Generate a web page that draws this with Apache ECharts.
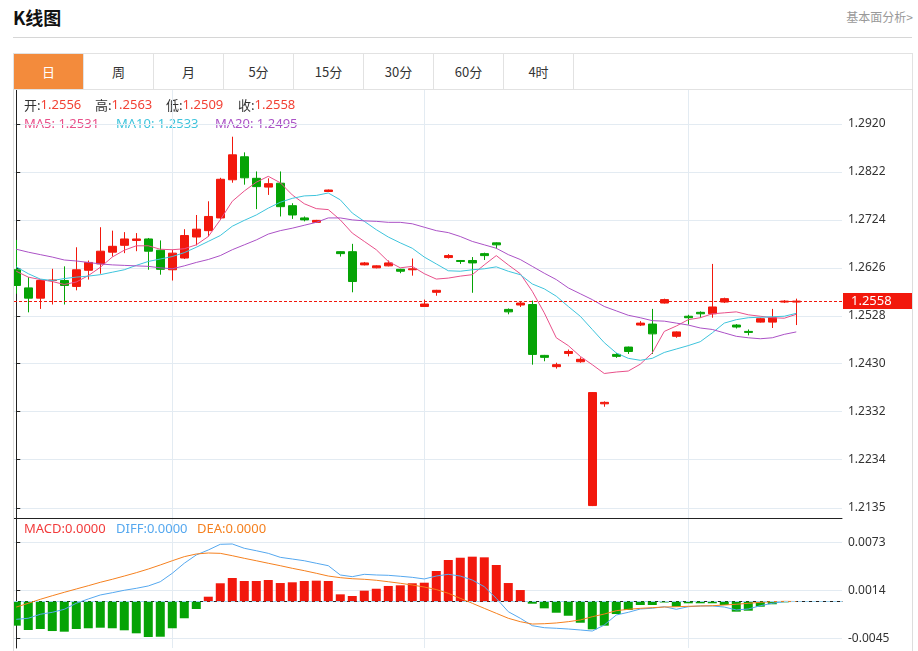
<!DOCTYPE html>
<html>
<head>
  <meta charset="utf-8">
  <title>K线图</title>
  <script src="https://cdn.jsdelivr.net/npm/echarts@6/dist/echarts.min.js"></script>
  <style>
    body { margin: 0; width: 918px; height: 651px; background: #fff; position: relative; overflow: hidden;
           font-family: "Noto Sans CJK SC", "Noto Sans", sans-serif; }
    .title { position: absolute; left: 13px; top: 4px; font-size: 18px; font-weight: bold; color: #111; }
    .more { position: absolute; right: 5px; top: 8px; font-size: 12px; color: #999; }
    .rule { position: absolute; left: 13px; top: 37px; width: 899px; height: 1px; background: #d6d6d6; }
    .tabs { position: absolute; left: 13px; top: 53px; width: 898px; height: 35px; border: 1px solid #e2e2e2; display: flex; }
    .tabs div { width: 69px; height: 35px; line-height: 35px; text-align: center; font-size: 13px; color: #333;
                border-right: 1px solid #e2e2e2; }
    .tabs div.on { background: #f38b3c; color: #fff; }
    .box { position: absolute; left: 13px; top: 89px; width: 898px; height: 562px; border-left: 1px solid #ddd; border-right: 1px solid #ddd; }
    #kChart { position: absolute; left: 14px; top: 90px; width: 898px; height: 561px; }
  </style>
</head>
<body>
  <div class="title">K线图</div>
  <div class="more">基本面分析&gt;</div>
  <div class="rule"></div>
  <div class="tabs" id="tabs"></div>
  <div class="box"></div>
  <div id="kChart"></div>

  <script>
    const tabNames = ['日', '周', '月', '5分', '15分', '30分', '60分', '4时'];

    // 日K数据 (开/收/低/高)
    const opens = [1.2622, 1.2585, 1.2564, 1.2600, 1.2600, 1.2588, 1.2621, 1.2634, 1.2658, 1.2672,
      1.2682, 1.2685, 1.2662, 1.2622, 1.2646, 1.2689, 1.2702, 1.2728, 1.2806, 1.2853,
      1.2809, 1.2791, 1.2799, 1.2753, 1.2728, 1.2719, 1.2782, 1.2659, 1.2659, 1.2632,
      1.2626, 1.2630, 1.2623, 1.2622, 1.2547, 1.2576, 1.2647, 1.2641, 1.2641, 1.2655,
      1.2677, 1.2541, 1.2550, 1.2551, 1.2447, 1.2424, 1.2451, 1.2434, 1.2140, 1.2348,
      1.2449, 1.2464, 1.2509, 1.2511, 1.2554, 1.2486, 1.2527, 1.2535, 1.2532, 1.2556,
      1.2509, 1.2496, 1.2515, 1.2515, 1.2556, 1.2556];
    const closes = [1.2590, 1.2564, 1.2600, 1.2601, 1.2590, 1.2622, 1.2637, 1.2660, 1.2670, 1.2685,
      1.2685, 1.2660, 1.2623, 1.2656, 1.2692, 1.2705, 1.2731, 1.2807, 1.2857, 1.2810,
      1.2792, 1.2798, 1.2751, 1.2734, 1.2724, 1.2723, 1.2785, 1.2655, 1.2598, 1.2636,
      1.2630, 1.2636, 1.2619, 1.2624, 1.2552, 1.2580, 1.2651, 1.2639, 1.2636, 1.2651,
      1.2673, 1.2536, 1.2554, 1.2449, 1.2443, 1.2428, 1.2455, 1.2439, 1.2371, 1.2351,
      1.2445, 1.2455, 1.2513, 1.2491, 1.2561, 1.2495, 1.2524, 1.2532, 1.2546, 1.2563,
      1.2505, 1.2494, 1.2522, 1.2524, 1.2558, 1.2558];
    const lows = [1.2573, 1.2535, 1.2542, 1.2551, 1.2551, 1.2580, 1.2602, 1.2614, 1.2649, 1.2656,
      1.2660, 1.2622, 1.2612, 1.2600, 1.2644, 1.2672, 1.2690, 1.2724, 1.2800, 1.2796,
      1.2746, 1.2775, 1.2731, 1.2726, 1.2721, 1.2718, 1.2781, 1.2649, 1.2576, 1.2631,
      1.2625, 1.2629, 1.2615, 1.2610, 1.2546, 1.2569, 1.2645, 1.2634, 1.2575, 1.2642,
      1.2665, 1.2531, 1.2546, 1.2428, 1.2435, 1.2420, 1.2445, 1.2432, 1.2139, 1.2342,
      1.2442, 1.2450, 1.2507, 1.2450, 1.2553, 1.2483, 1.2510, 1.2524, 1.2524, 1.2554,
      1.2502, 1.2488, 1.2514, 1.2503, 1.2554, 1.2509];
    const highs = [1.2683, 1.2607, 1.2602, 1.2624, 1.2629, 1.2668, 1.2641, 1.2709, 1.2702, 1.2699,
      1.2697, 1.2687, 1.2682, 1.2663, 1.2705, 1.2734, 1.2762, 1.2810, 1.2894, 1.2862,
      1.2823, 1.2809, 1.2823, 1.2758, 1.2731, 1.2724, 1.2786, 1.2660, 1.2675, 1.2638,
      1.2631, 1.2641, 1.2624, 1.2645, 1.2561, 1.2581, 1.2654, 1.2642, 1.2648, 1.2657,
      1.2678, 1.2543, 1.2557, 1.2559, 1.2448, 1.2432, 1.2459, 1.2443, 1.2372, 1.2353,
      1.2452, 1.2465, 1.2517, 1.2542, 1.2563, 1.2496, 1.2530, 1.2537, 1.2634, 1.2565,
      1.2511, 1.2500, 1.2524, 1.2542, 1.2560, 1.2563];

    const ma5 = [1.2619, 1.2607, 1.2602, 1.2598, 1.2592, 1.2597, 1.2610, 1.2627, 1.2648, 1.2662,
      1.2671, 1.2671, 1.2664, 1.2663, 1.2665, 1.2673, 1.2690, 1.2724, 1.2762, 1.2783,
      1.2801, 1.2813, 1.2800, 1.2775, 1.2757, 1.2747, 1.2745, 1.2724, 1.2697, 1.2680,
      1.2663, 1.2639, 1.2626, 1.2629, 1.2614, 1.2603, 1.2605, 1.2609, 1.2612, 1.2632,
      1.2651, 1.2632, 1.2614, 1.2578, 1.2534, 1.2483, 1.2467, 1.2445, 1.2428, 1.2410,
      1.2413, 1.2415, 1.2429, 1.2452, 1.2496, 1.2507, 1.2520, 1.2524, 1.2532, 1.2534,
      1.2536, 1.2530, 1.2527, 1.2524, 1.2523, 1.2531];
    const ma10 = [1.2628, 1.2614, 1.2603, 1.2600, 1.2604, 1.2607, 1.2609, 1.2612, 1.2617, 1.2622,
      1.2631, 1.2639, 1.2644, 1.2649, 1.2657, 1.2668, 1.2680, 1.2692, 1.2711, 1.2723,
      1.2734, 1.2748, 1.2760, 1.2768, 1.2773, 1.2774, 1.2779, 1.2765, 1.2738, 1.2721,
      1.2704, 1.2689, 1.2677, 1.2666, 1.2648, 1.2634, 1.2620, 1.2619, 1.2622, 1.2624,
      1.2628, 1.2619, 1.2612, 1.2593, 1.2583, 1.2568, 1.2547, 1.2527, 1.2500, 1.2473,
      1.2452, 1.2441, 1.2437, 1.2441, 1.2453, 1.2460, 1.2467, 1.2475, 1.2493, 1.2513,
      1.2520, 1.2524, 1.2525, 1.2526, 1.2527, 1.2533];
    const ma20 = [1.2664, 1.2658, 1.2653, 1.2648, 1.2642, 1.2640, 1.2637, 1.2634, 1.2632, 1.2631,
      1.2630, 1.2629, 1.2626, 1.2624, 1.2630, 1.2637, 1.2643, 1.2651, 1.2663, 1.2673,
      1.2683, 1.2695, 1.2702, 1.2707, 1.2713, 1.2719, 1.2728, 1.2728, 1.2724, 1.2722,
      1.2721, 1.2719, 1.2719, 1.2716, 1.2709, 1.2702, 1.2698, 1.2690, 1.2680, 1.2673,
      1.2666, 1.2653, 1.2643, 1.2629, 1.2615, 1.2602, 1.2585, 1.2573, 1.2561, 1.2547,
      1.2538, 1.2529, 1.2524, 1.2518, 1.2517, 1.2513, 1.2509, 1.2503, 1.2500, 1.2493,
      1.2486, 1.2483, 1.2481, 1.2483, 1.2490, 1.2495];

    // MACD
    const macdBar = [-0.00297, -0.00350, -0.00338, -0.00363, -0.00371, -0.00338, -0.00329, -0.00322, -0.00329, -0.00354,
      -0.00391, -0.00436, -0.00433, -0.00329, -0.00206, -0.00092, 0.00059, 0.00224, 0.00289, 0.00252,
      0.00252, 0.00264, 0.00227, 0.00236, 0.00252, 0.00256, 0.00252, 0.00088, 0.00068, 0.00133,
      0.00157, 0.00191, 0.00199, 0.00224, 0.00231, 0.00375, 0.00510, 0.00538, 0.00551, 0.00543,
      0.00449, 0.00227, 0.00141, -0.00027, -0.00084, -0.00138, -0.00175, -0.00261, -0.00342, -0.00297,
      -0.00154, -0.00104, -0.00043, -0.00043, -0.00012, -0.00064, -0.00022, -0.00022, -0.00022, -0.00043,
      -0.00125, -0.00113, -0.00064, -0.00034, -0.00010, 0];
    const diff = [-0.00219, -0.00206, -0.00157, -0.00133, -0.00096, -0.00022, 0.00031, 0.00080, 0.00108, 0.00138,
      0.00162, 0.00191, 0.00243, 0.00347, 0.00470, 0.00572, 0.00633, 0.00703, 0.00707, 0.00654,
      0.00624, 0.00592, 0.00543, 0.00522, 0.00501, 0.00470, 0.00440, 0.00326, 0.00305, 0.00334,
      0.00326, 0.00322, 0.00310, 0.00297, 0.00277, 0.00313, 0.00334, 0.00313, 0.00264, 0.00182,
      0.00039, -0.00125, -0.00206, -0.00297, -0.00322, -0.00329, -0.00338, -0.00350, -0.00363, -0.00289,
      -0.00166, -0.00133, -0.00092, -0.00083, -0.00064, -0.00096, -0.00064, -0.00055, -0.00055, -0.00068,
      -0.00104, -0.00092, -0.00052, -0.00022, -0.00002, 0];
    const dea = [-0.00068, -0.00022, 0.00027, 0.00071, 0.00113, 0.00154, 0.00194, 0.00236, 0.00273, 0.00313,
      0.00354, 0.00399, 0.00449, 0.00501, 0.00551, 0.00584, 0.00596, 0.00592, 0.00563, 0.00531,
      0.00501, 0.00470, 0.00440, 0.00408, 0.00379, 0.00347, 0.00313, 0.00293, 0.00280, 0.00273,
      0.00261, 0.00243, 0.00224, 0.00203, 0.00178, 0.00147, 0.00101, 0.00039, -0.00022, -0.00084,
      -0.00145, -0.00206, -0.00248, -0.00277, -0.00273, -0.00264, -0.00248, -0.00227, -0.00187, -0.00154,
      -0.00113, -0.00096, -0.00084, -0.00076, -0.00068, -0.00064, -0.00059, -0.00055, -0.00052, -0.00043,
      -0.00034, -0.00022, -0.00010, -0.00002, 0.00002, 0];

    const priceTicks = [1.2135, 1.2234, 1.2332, 1.2430, 1.2528, 1.2626, 1.2724, 1.2822, 1.2920];
    const macdTicks = [-0.0045, 0.0014, 0.0073];
    const monthSplits = [13, 34, 56];

    // tabs
    const tabsEl = document.getElementById('tabs');
    tabNames.forEach((n, i) => {
      const d = document.createElement('div');
      d.textContent = n;
      if (i === 0) d.className = 'on';
      tabsEl.appendChild(d);
    });

    const RED = '#f2180c', GREEN = '#05a305';
    const C_MA5 = '#e8508a', C_MA10 = '#3ec4dc', C_MA20 = '#ab52c6';
    const C_DIFF = '#55a8ef', C_DEA = '#f5801f', C_MACD = '#f23b3b';
    const GRIDLINE = '#e3ebf2';
    const last = closes.length - 1;
    const f4 = v => (Math.abs(v) < 0.00005 ? 0 : v).toFixed(4);

    const kData = opens.map((o, i) => [i, o, closes[i], lows[i], highs[i]]);
    const pair = arr => arr.map((v, i) => [i, v]);

    const chart = echarts.init(document.getElementById('kChart'));

    const xAxisBase = {
      type: 'value', min: -0.19, max: 68.81,
      axisLine: { show: true, lineStyle: { color: '#222' } },
      axisTick: { show: false, customValues: monthSplits },
      axisLabel: { show: false, customValues: monthSplits },
      splitLine: { show: true, lineStyle: { color: GRIDLINE } }
    };
    const yAxisBase = {
      type: 'value', position: 'right', scale: true,
      axisLine: { show: true, lineStyle: { color: '#222' } },
      axisTick: { show: true, length: 4, lineStyle: { color: '#222' } },
      axisLabel: { color: '#333', fontSize: 12, margin: 6, fontFamily: 'Noto Sans' },
      splitLine: { show: true, lineStyle: { color: GRIDLINE } }
    };

    const FONT = '13px "Noto Sans", "Noto Sans CJK SC"';
    const txt = (x, y, rich, text) => ({
      type: 'text', x: x, y: y, silent: true,
      style: { text: text, rich: rich, verticalAlign: 'middle', font: FONT }
    });
    const lab = {
      l: { fill: '#333', fontSize: 13, fontFamily: 'Noto Sans CJK SC' },
      v: { fill: '#f24134', fontSize: 13, fontFamily: 'Noto Sans' }
    };
    const one = c => ({ a: { fill: c, fontSize: 13, fontFamily: 'Noto Sans' } });

    chart.setOption({
      animation: false,
      grid: [
        { left: 0, top: 0, width: 828, height: 428 },
        { left: 0, top: 428, width: 828, height: 130 }
      ],
      xAxis: [
        Object.assign({ gridIndex: 0 }, xAxisBase),
        Object.assign({ gridIndex: 1 }, xAxisBase)
      ],
      yAxis: [
        Object.assign({}, yAxisBase, {
          gridIndex: 0, min: 1.21146, max: 1.29895,
          axisTick: Object.assign({}, yAxisBase.axisTick, { customValues: priceTicks }),
          axisLabel: Object.assign({}, yAxisBase.axisLabel, { customValues: priceTicks, formatter: v => v.toFixed(4) })
        }),
        Object.assign({}, yAxisBase, {
          gridIndex: 1, min: -0.005715, max: 0.010263,
          axisTick: Object.assign({}, yAxisBase.axisTick, { customValues: macdTicks }),
          axisLabel: Object.assign({}, yAxisBase.axisLabel, { customValues: macdTicks, formatter: v => v.toFixed(4) })
        })
      ],
      graphic: [
        txt(10, 15, lab, '{l|开:}{v|' + opens[last].toFixed(4) + '}'),
        txt(81, 15, lab, '{l|高:}{v|' + highs[last].toFixed(4) + '}'),
        txt(152, 15, lab, '{l|低:}{v|' + lows[last].toFixed(4) + '}'),
        txt(224, 15, lab, '{l|收:}{v|' + closes[last].toFixed(4) + '}'),
        txt(10, 34, one(C_MA5), '{a|MA5: ' + ma5[last].toFixed(4) + '}'),
        txt(102, 34, one(C_MA10), '{a|MA10: ' + ma10[last].toFixed(4) + '}'),
        txt(201, 34, one(C_MA20), '{a|MA20: ' + ma20[last].toFixed(4) + '}'),
        txt(10, 439, one(C_MACD), '{a|MACD:' + f4(macdBar[last]) + '}'),
        txt(102, 439, one(C_DIFF), '{a|DIFF:' + f4(diff[last]) + '}'),
        txt(183, 439, one(C_DEA), '{a|DEA:' + f4(dea[last]) + '}')
      ],
      series: [
        {
          name: 'K', type: 'candlestick', xAxisIndex: 0, yAxisIndex: 0,
          barWidth: 9,
          data: kData,
          itemStyle: { color: RED, color0: GREEN, borderColor: RED, borderColor0: GREEN, borderWidth: 1 }
        },
        {
          name: 'MA5', type: 'line', data: pair(ma5), showSymbol: false, lineStyle: { width: 1, color: C_MA5 },
          markLine: {
            symbol: 'none', silent: true, animation: false, precision: 4,
            lineStyle: { color: RED, type: [3, 2], width: 1 },
            label: {
              position: 'end', distance: 1, formatter: () => closes[last].toFixed(4),
              color: '#fff', backgroundColor: RED, fontSize: 13, fontFamily: 'Noto Sans', padding: [2, 24, 1, 8]
            },
            data: [{ yAxis: closes[last] }]
          }
        },
        { name: 'MA10', type: 'line', data: pair(ma10), showSymbol: false, lineStyle: { width: 1, color: C_MA10 } },
        { name: 'MA20', type: 'line', data: pair(ma20), showSymbol: false, lineStyle: { width: 1, color: C_MA20 } },
        {
          name: 'MACD', type: 'bar', xAxisIndex: 1, yAxisIndex: 1, barWidth: 9,
          data: pair(macdBar),
          itemStyle: { color: p => (p.value[1] >= 0 ? RED : GREEN) },
          markLine: {
            symbol: 'none', silent: true, animation: false, precision: 6,
            lineStyle: { color: '#9fd4ef', type: [4, 3], width: 1 },
            label: { show: false },
            data: [{ yAxis: 0 }]
          }
        },
        { name: 'DIFF', type: 'line', xAxisIndex: 1, yAxisIndex: 1, data: pair(diff), showSymbol: false, lineStyle: { width: 1, color: C_DIFF } },
        { name: 'DEA', type: 'line', xAxisIndex: 1, yAxisIndex: 1, data: pair(dea), showSymbol: false, lineStyle: { width: 1, color: C_DEA } }
      ]
    });
  </script>
</body>
</html>
